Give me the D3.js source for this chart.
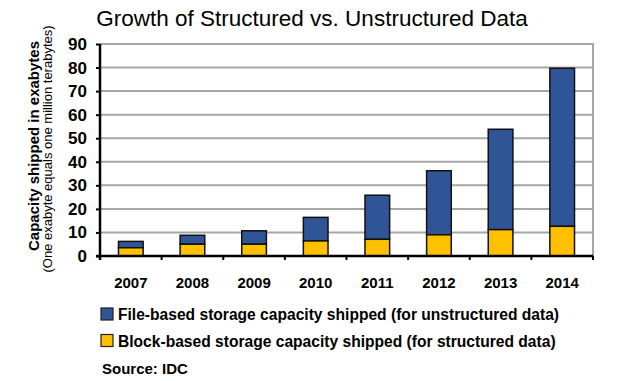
<!DOCTYPE html>
<html>
<head>
<meta charset="utf-8">
<script src="https://cdn.jsdelivr.net/npm/d3@7"></script>
<style>
  html, body { margin: 0; padding: 0; background: #fff; }
  svg { display: block; font-family: "Liberation Sans", Arial, sans-serif; }
</style>
</head>
<body>
<svg id="chart" width="624" height="381"></svg>
<script>
const years = ["2007", "2008", "2009", "2010", "2011", "2012", "2013", "2014"];
const blockBased = [3.5, 5.0, 5.0, 6.4, 7.1, 9.0, 11.2, 12.6];
const fileBased = [2.7, 3.8, 5.7, 10.0, 18.7, 27.2, 42.6, 67.1];
const yTicks = [0, 10, 20, 30, 40, 50, 60, 70, 80, 90];
const seriesNames = ["File-based storage capacity shipped (for unstructured data)",
                     "Block-based storage capacity shipped (for structured data)"];
const colors = { file: "#2F5597", block: "#FFC000" };

const svg = d3.select("#chart");
const mLeft = 100, mRight = 593, mTop = 44, mBottom = 256;

const x = d3.scaleBand().domain(years).range([mLeft, mRight]).paddingInner(0.6).paddingOuter(0.3);
const xb = d3.scaleBand().domain(years).range([mLeft, mRight]).padding(0);
const y = d3.scaleLinear().domain([0, 90]).range([mBottom, mTop]);

// title
svg.append("text").attr("x", 312).attr("y", 26).attr("text-anchor", "middle")
  .attr("font-size", 22.5).attr("fill", "#000")
  .text("Growth of Structured vs. Unstructured Data");

// gridlines
svg.append("g").selectAll("line").data(yTicks.filter(d => d > 0)).join("line")
  .attr("x1", mLeft).attr("x2", mRight)
  .attr("y1", d => y(d)).attr("y2", d => y(d))
  .attr("stroke", "#A6A6A6").attr("stroke-width", 2);
svg.append("line").attr("x1", mRight).attr("x2", mRight).attr("y1", mTop - 1).attr("y2", mBottom)
  .attr("stroke", "#A6A6A6").attr("stroke-width", 2);

// bars
const data = years.map((yr, i) => ({ yr, b: blockBased[i], f: fileBased[i] }));
const g = svg.append("g");
g.selectAll("rect.f").data(data).join("rect").attr("class", "f")
  .attr("x", d => x(d.yr)).attr("width", x.bandwidth())
  .attr("y", d => y(d.b + d.f)).attr("height", d => y(d.b) - y(d.b + d.f))
  .attr("fill", colors.file).attr("stroke", "#111").attr("stroke-width", 1.5);
g.selectAll("rect.b").data(data).join("rect").attr("class", "b")
  .attr("x", d => x(d.yr)).attr("width", x.bandwidth())
  .attr("y", d => y(d.b)).attr("height", d => y(0) - y(d.b))
  .attr("fill", colors.block).attr("stroke", "#111").attr("stroke-width", 1.5);

// y axis
const yAxis = svg.append("g").attr("transform", `translate(${mLeft},0)`)
  .call(d3.axisLeft(y).tickValues(yTicks).tickSize(4).tickPadding(9));
yAxis.select(".domain").attr("stroke", "#000").attr("stroke-width", 2.5)
  .attr("d", `M0,${mTop}V${mBottom + 4}`);
yAxis.selectAll(".tick line").attr("stroke", "#000").attr("stroke-width", 2);
yAxis.selectAll(".tick text").attr("font-size", 17).attr("font-weight", "bold")
  .attr("fill", "#000").attr("font-family", "Liberation Sans, Arial, sans-serif");

// x axis line & ticks at band boundaries
svg.append("line").attr("x1", mLeft - 4).attr("x2", mRight).attr("y1", mBottom).attr("y2", mBottom)
  .attr("stroke", "#000").attr("stroke-width", 2.5);
const bounds = years.map(d => xb(d)).concat([mRight]);
svg.append("g").selectAll("line").data(bounds).join("line")
  .attr("x1", d => d).attr("x2", d => d).attr("y1", mBottom).attr("y2", mBottom + 4)
  .attr("stroke", "#000").attr("stroke-width", 2);
svg.append("g").selectAll("text").data(years).join("text")
  .attr("x", d => xb(d) + xb.bandwidth() / 2).attr("y", 288)
  .attr("text-anchor", "middle").attr("font-size", 15).attr("font-weight", "bold")
  .text(d => d);

// y axis title
svg.append("text").attr("transform", "translate(38.5,146) rotate(-90)")
  .attr("text-anchor", "middle").attr("font-size", 15).attr("font-weight", "bold")
  .text("Capacity shipped in exabytes");
svg.append("text").attr("transform", "translate(51.5,149) rotate(-90)")
  .attr("text-anchor", "middle").attr("font-size", 13)
  .text("(One exabyte equals one million terabytes)");

// legend
const leg = svg.append("g");
const legItems = [{ name: seriesNames[0], c: colors.file, yy: 308 },
                  { name: seriesNames[1], c: colors.block, yy: 334.5 }];
leg.selectAll("rect").data(legItems).join("rect")
  .attr("x", 101).attr("y", d => d.yy).attr("width", 12).attr("height", 12)
  .attr("fill", d => d.c).attr("stroke", "#222").attr("stroke-width", 1.2);
leg.selectAll("text").data(legItems).join("text")
  .attr("x", 118).attr("y", d => d.yy + 12)
  .attr("font-size", 15.6).attr("font-weight", "bold")
  .text(d => d.name);

svg.append("text").attr("x", 102).attr("y", 374).attr("font-size", 15).attr("font-weight", "bold")
  .text("Source: IDC");
</script>
</body>
</html>
